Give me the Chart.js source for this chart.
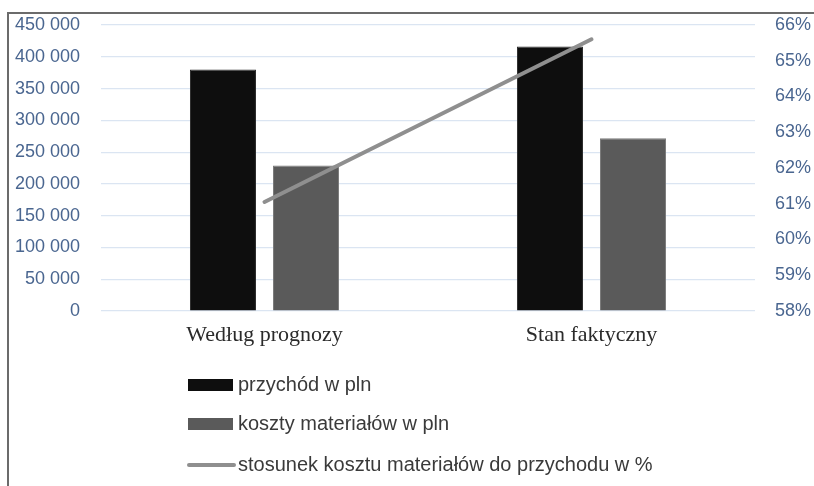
<!DOCTYPE html>
<html>
<head>
<meta charset="utf-8">
<script src="https://cdn.jsdelivr.net/npm/chart.js@4/dist/chart.umd.min.js"></script>
<style>
html,body{margin:0;padding:0;background:#fff;}
#wrap{width:814px;height:486px;position:relative;}
</style>
</head>
<body>
<div id="wrap"><canvas id="c" width="814" height="486"></canvas></div>
<script>
const categories = ["Według prognozy", "Stan faktyczny"];
const przychod = [380000, 416000];
const koszty = [229000, 272000];
const stosunek = [61.05, 65.6];
const seriesLabels = ["przychód w pln", "koszty materiałów w pln", "stosunek kosztu materiałów do przychodu w %"];

const tickColor = "#4a6690";
const gridColor = "#dbe5f2";

function fmtThousands(v){
  return String(v).replace(/\B(?=(\d{3})+(?!\d))/g, " ");
}

const framePlugin = {
  id: "frame",
  beforeDraw(chart){
    const ctx = chart.ctx;
    ctx.save();
    ctx.fillStyle = "#fff";
    ctx.fillRect(0,0,chart.width,chart.height);
    ctx.strokeStyle = "#6b6b6b";
    ctx.lineWidth = 2;
    ctx.beginPath();
    ctx.moveTo(8, chart.height + 5);
    ctx.lineTo(8, 13);
    ctx.lineTo(chart.width + 5, 13);
    ctx.stroke();
    ctx.restore();
  }
};

const legendPlugin = {
  id: "vlegend",
  afterDraw(chart){
    const ctx = chart.ctx;
    const rows = [385, 424, 465];
    ctx.save();
    ctx.font = "20px 'Liberation Sans', Arial, sans-serif";
    ctx.textBaseline = "middle";
    chart.data.datasets.forEach((ds, i) => {
      const y = rows[i];
      if (ds.type === "line") {
        ctx.strokeStyle = ds.borderColor;
        ctx.lineWidth = 4;
        ctx.lineCap = "round";
        ctx.beginPath();
        ctx.moveTo(189, y);
        ctx.lineTo(234, y);
        ctx.stroke();
      } else {
        ctx.fillStyle = ds.backgroundColor;
        ctx.fillRect(188, y - 6, 45, 12);
      }
      ctx.fillStyle = "#3a3a3a";
      ctx.fillText(ds.label, 238, y);
    });
    ctx.restore();
  }
};

function fitVertical(width){
  return function(scale){
    scale.width = width;
    scale.paddingTop = 0;
    scale.paddingBottom = 0;
  };
}

new Chart(document.getElementById("c"), {
  data: {
    labels: categories,
    datasets: [
      {
        type: "bar",
        label: seriesLabels[0],
        data: przychod,
        backgroundColor: "#0e0e0e",
        borderColor: "#2a2a2a",
        borderWidth: 1,
        yAxisID: "y",
        order: 1,
        categoryPercentage: 0.508,
        barPercentage: 0.795
      },
      {
        type: "bar",
        label: seriesLabels[1],
        data: koszty,
        backgroundColor: "#5a5a5a",
        borderColor: "#7a7a7a",
        borderWidth: 1,
        yAxisID: "y",
        order: 1,
        categoryPercentage: 0.508,
        barPercentage: 0.795
      },
      {
        type: "line",
        label: seriesLabels[2],
        data: stosunek,
        borderColor: "#8f8f8f",
        backgroundColor: "#8f8f8f",
        borderWidth: 4,
        borderCapStyle: "round",
        pointRadius: 0,
        yAxisID: "y1",
        order: 0
      }
    ]
  },
  options: {
    responsive: false,
    animation: false,
    layout: { padding: { top: 25, left: 0, right: 0, bottom: 0 } },
    plugins: {
      legend: { display: false },
      tooltip: { enabled: false }
    },
    scales: {
      x: {
        grid: { display: false, drawTicks: false },
        border: { display: false },
        ticks: {
          color: "#2b2b2b",
          font: { family: "'Liberation Serif', 'Times New Roman', serif", size: 22 },
          padding: 11
        },
        afterFit(scale){
          scale.height = 175;
          scale.paddingLeft = 0;
          scale.paddingRight = 0;
        }
      },
      y: {
        position: "left",
        min: 0, max: 450000,
        grid: { color: gridColor, drawTicks: false, lineWidth: 1.2 },
        border: { display: false },
        ticks: {
          stepSize: 50000,
          color: tickColor,
          font: { family: "'Liberation Sans', Arial, sans-serif", size: 18 },
          padding: 21,
          callback: v => fmtThousands(v)
        },
        afterFit: fitVertical(101)
      },
      y1: {
        position: "right",
        min: 58, max: 66,
        grid: { display: false, drawTicks: false },
        border: { display: false },
        ticks: {
          stepSize: 1,
          color: tickColor,
          font: { family: "'Liberation Sans', Arial, sans-serif", size: 18 },
          padding: 20,
          callback: v => v + "%"
        },
        afterFit: fitVertical(59)
      }
    }
  },
  plugins: [framePlugin, legendPlugin]
});
</script>
</body>
</html>
